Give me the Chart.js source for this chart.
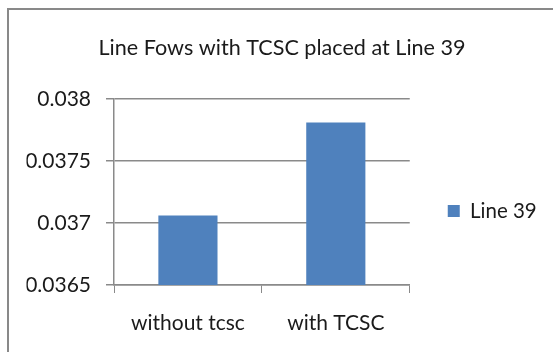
<!DOCTYPE html>
<html>
<head>
<meta charset="utf-8">
<script src="https://cdn.jsdelivr.net/npm/chart.js@4"></script>
<style>
    body { margin: 0; background: #fff; }
    #frame {
        position: absolute; left: 7px; top: 8px; width: 560px; height: 360px;
        border-left: 2px solid #898989; border-top: 2px solid #898989;
    }
    #wrap { position: absolute; left: 0; top: 0; width: 553px; height: 352px; }
</style>
</head>
<body>
<div id="frame"></div>
<div id="wrap"><canvas id="barChart"></canvas></div>
<script>
// data
const categories = ['without tcsc', 'with TCSC'];
const line39 = [0.03706, 0.03781];
const seriesName = 'Line 39';
const chartTitle = 'Line Fows with TCSC placed at Line 39';
const yTicks = [0.0365, 0.037, 0.0375, 0.038];

const FONT = 'Lato, "Noto Sans", sans-serif';
const textColor = '#1a1a1a';
const gridColor = '#8a8a8a';

const ctx = document.getElementById('barChart').getContext('2d');
const barChart = new Chart(ctx, {
    type: 'bar',
    data: {
        labels: categories,
        datasets: [{
            label: seriesName,
            data: line39,
            backgroundColor: '#4f81bd',
            borderWidth: 0,
            categoryPercentage: 1,
            barPercentage: 0.4
        }]
    },
    options: {
        responsive: true,
        maintainAspectRatio: false,
        animation: false,
        layout: { padding: { left: 26.5, right: 15.5, top: 0, bottom: -2.2 } },
        plugins: {
            title: {
                display: true,
                text: chartTitle,
                color: textColor,
                font: { family: FONT, size: 21.6, weight: 'normal' },
                padding: { top: 35, bottom: 38 }
            },
            legend: {
                position: 'right',
                fullSize: false,
                // empty title only pushes the entry down, like the excel legend
                title: { display: true, text: ' ', font: { size: 10 }, padding: { top: 13, bottom: 13 } },
                labels: {
                    color: textColor,
                    font: { family: FONT, size: 20.5 },
                    boxWidth: 12,
                    boxHeight: 12,
                    padding: 38
                }
            },
            tooltip: { enabled: false }
        },
        scales: {
            x: {
                grid: { display: true, drawOnChartArea: false, color: gridColor, tickLength: 8, offset: true },
                border: { color: gridColor, width: 1.5 },
                ticks: { color: textColor, font: { family: FONT, size: 21 }, padding: 18, maxRotation: 0 }
            },
            y: {
                min: yTicks[0],
                max: yTicks[yTicks.length - 1],
                afterBuildTicks: function (scale) {
                    scale.ticks = yTicks.map(v => ({ value: v }));
                },
                afterFit: function (scale) { scale.width = 87.5; },
                grid: { color: gridColor, lineWidth: 1.5, tickLength: 8 },
                border: { color: gridColor, width: 1.5 },
                ticks: {
                    color: textColor,
                    font: { family: FONT, size: 21 },
                    padding: 15,
                    crossAlign: 'near',
                    callback: function (v) { return String(+v.toFixed(4)); }
                }
            }
        }
    }
});
</script>
</body>
</html>
